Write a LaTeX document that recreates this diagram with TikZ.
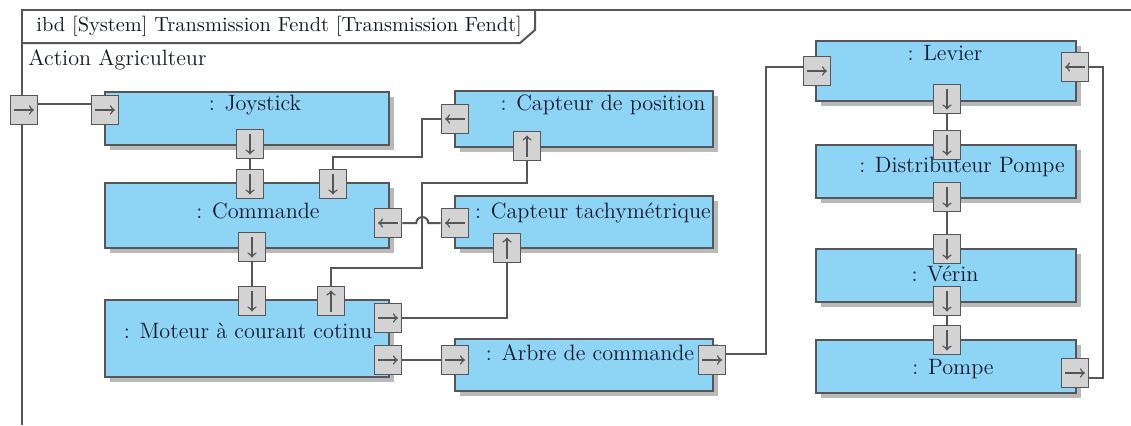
\documentclass[tikz,border=0pt]{standalone}
\usetikzlibrary{shadows}
\definecolor{blockblue}{RGB}{142,212,245}
\definecolor{portgray}{RGB}{211,211,211}
\definecolor{wiregray}{RGB}{85,85,90}
\definecolor{shadegray}{RGB}{185,185,185}
\definecolor{inktext}{RGB}{20,25,45}
\begin{document}
\begin{tikzpicture}[x=0.5pt,y=-0.5pt,
    font=\fontsize{11.1}{13}\selectfont,
    block/.style={draw=wiregray,fill=blockblue,line width=1pt,inner sep=0pt,
      drop shadow={shadow xshift=2.5pt,shadow yshift=-2.5pt,fill=shadegray,draw=none,opacity=1}},
    leftblk/.style={block,minimum width=142pt},
    midblk/.style={block,minimum width=129pt},
    rightblk/.style={block,minimum width=130pt},
    port/.style={draw=wiregray,fill=portgray,line width=0.8pt,minimum width=13.5pt,
      minimum height=14.5pt,inner sep=0pt},
    flow/.style={draw=wiregray,line width=0.75pt,->},
    portR/.style={port,path picture={\draw[flow] ([xshift=1.8pt]path picture bounding box.west) -- ([xshift=-1.8pt]path picture bounding box.east);}},
    portL/.style={port,path picture={\draw[flow] ([xshift=-1.8pt]path picture bounding box.east) -- ([xshift=1.8pt]path picture bounding box.west);}},
    portD/.style={port,path picture={\draw[flow] ([yshift=-2pt]path picture bounding box.north) -- ([yshift=2pt]path picture bounding box.south);}},
    portU/.style={port,path picture={\draw[flow] ([yshift=2pt]path picture bounding box.south) -- ([yshift=-2pt]path picture bounding box.north);}},
    wire/.style={draw=wiregray,line width=1pt},
    blkname/.style={text=inktext,inner sep=0pt}]
    \useasboundingbox (0,0) rectangle (1131,425);
    \draw[wire] (1131,10) -- (22,10) -- (22,425);
    \draw[wire] (22,43) -- (520,43) -- (535,30) -- (535,10);
    \node[blkname,anchor=west,font=\fontsize{10.2}{12}\selectfont] (title) at (36,26) {ibd [System] Transmission Fendt [Transmission Fendt]};
    \node[blkname,anchor=west] (actor) at (28,60) {Action Agriculteur};

    \node[leftblk,minimum height=26.5pt] (joy) at (247,118.5) {};
    \node[leftblk,minimum height=32.5pt] (com) at (247,215.5) {};
    \node[leftblk,minimum height=38.5pt] (mot) at (247,338.5) {};
    \node[midblk,minimum height=28pt] (pos) at (584,119) {};
    \node[midblk,minimum height=26pt] (tac) at (584,222) {};
    \node[midblk,minimum height=26pt] (arb) at (584,365) {};
    \node[rightblk,minimum height=30pt] (lev) at (946,71) {};
    \node[rightblk,minimum height=26.5pt] (dis) at (946,171.5) {};
    \node[rightblk,minimum height=26.5pt] (ver) at (946,275.5) {};
    \node[rightblk,minimum height=26.5pt] (pom) at (946,366.5) {};

    \node[blkname] (joy-t) at (255,105) {: Joystick};
    \node[blkname] (com-t) at (258,211) {: Commande};
    \node[blkname] (mot-t) at (248,331) {: Moteur à courant cotinu};
    \node[blkname] (pos-t) at (603,105) {: Capteur de position};
    \node[blkname] (tac-t) at (593,213) {: Capteur tachymétrique};
    \node[blkname] (arb-t) at (590,353) {: Arbre de commande};
    \node[blkname] (lev-t) at (945,53) {: Levier};
    \node[blkname] (dis-t) at (962,167) {: Distributeur Pompe};
    \node[blkname] (ver-t) at (945,274) {: Vérin};
    \node[blkname] (pom-t) at (953,369) {: Pompe};

    \node[portR] (pframe) at (24,110) {};
    \node[portR] (pjoyL) at (105,110) {};
    \node[portD] (pjoyB) at (250,144) {};
    \node[portD] (pcomT1) at (250,184) {};
    \node[portD] (pcomT2) at (333,184) {};
    \node[portL] (pcomR) at (388,223) {};
    \node[portD] (pcomB) at (252,247) {};
    \node[portD] (pmotT1) at (252,301) {};
    \node[portU] (pmotT2) at (331,301) {};
    \node[portR] (pmotR1) at (388,318) {};
    \node[portR] (pmotR2) at (388,360) {};
    \node[portL] (pposL) at (455,119) {};
    \node[portU] (pposB) at (527,146) {};
    \node[portL] (ptacL) at (455,223) {};
    \node[portU] (ptacB) at (507,248) {};
    \node[portR] (parbL) at (455,360) {};
    \node[portR] (parbR) at (712,360) {};
    \node[portR] (plevL) at (817,71) {};
    \node[portL] (plevR) at (1075,67) {};
    \node[portD] (plevB) at (947,99) {};
    \node[portD] (pdisT) at (947,145) {};
    \node[portD] (pdisB) at (947,197) {};
    \node[portD] (pverT) at (947,249) {};
    \node[portD] (pverB) at (947,301) {};
    \node[portD] (ppomT) at (947,340) {};
    \node[portR] (ppomR) at (1075,373) {};

    \draw[wire] ([yshift=3pt]pframe.east) -- ([yshift=3pt]pjoyL.west);
    \draw[wire] (pjoyB) -- (pcomT1);
    \draw[wire] (pcomB) -- (pmotT1);
    \draw[wire] (pcomT2.north) |- (422,157) |- (pposL.west);
    \draw[wire] (pposB.south) |- (422,183) -- (422,268) -| (pmotT2.north);
    \draw[wire] (pcomR.east) -- ++(14,0) arc (180:360:6) -- (ptacL.west);
    \draw[wire] (ptacB.south) |- (pmotR1.east);
    \draw[wire] (pmotR2) -- (parbL);
    \draw[wire] ([yshift=3pt]parbR.east) -- ++(40,0) |- ([yshift=2pt]plevL.west);
    \draw[wire] (plevR.east) -- ++(14,0) |- ([yshift=-2.5pt]ppomR.east);
    \draw[wire] (plevB) -- (pdisT);
    \draw[wire] (pdisB) -- (pverT);
    \draw[wire] (pverB) -- (ppomT);
\end{tikzpicture}
\end{document}
